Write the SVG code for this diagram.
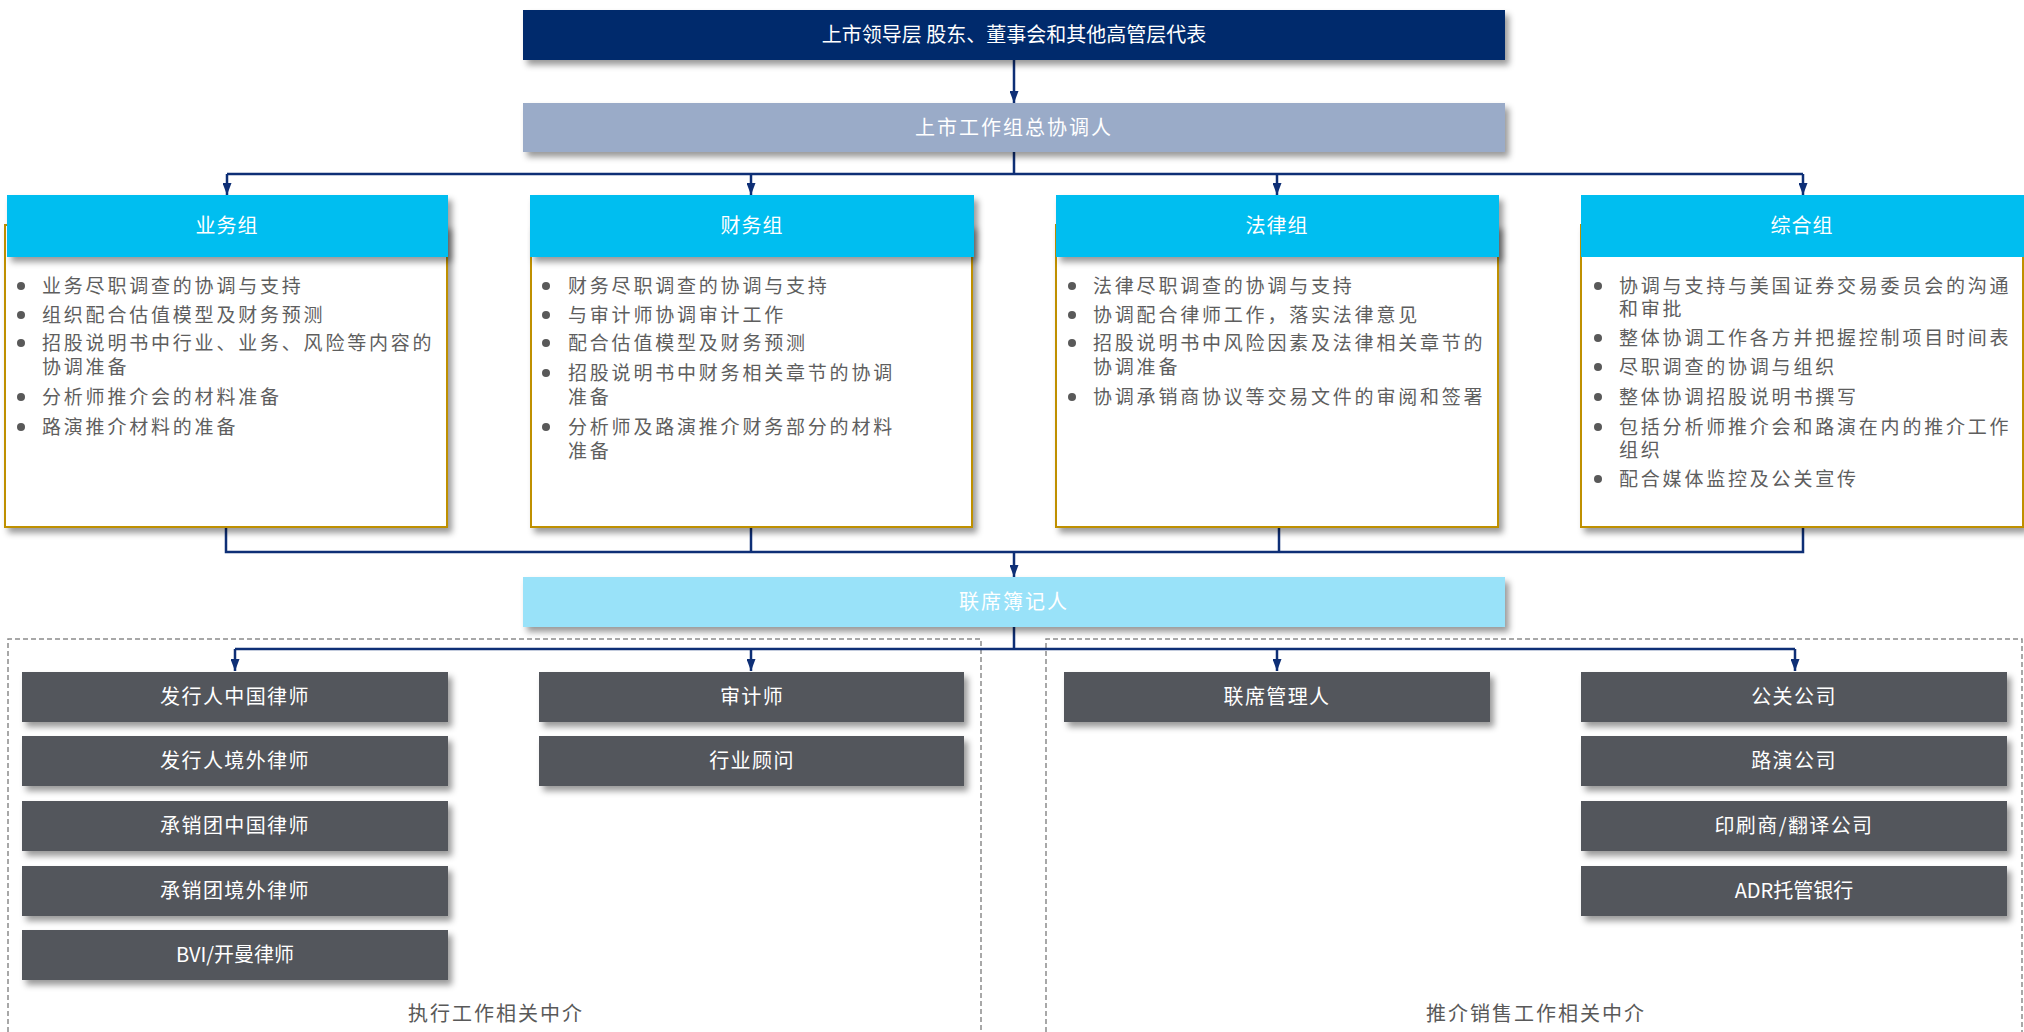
<svg xmlns="http://www.w3.org/2000/svg" width="2024" height="1032" viewBox="0 0 2024 1032">
<defs>
<filter id="sh" x="-5%" y="-10%" width="115%" height="140%">
<feDropShadow dx="4" dy="5" stdDeviation="3" flood-color="#000" flood-opacity="0.4"/>
</filter>
<marker id="ah" viewBox="0 0 12 9" refX="12" refY="4.5" markerWidth="12" markerHeight="9" markerUnits="userSpaceOnUse" orient="auto">
<path d="M0,0 L12,4.5 L0,9 z" fill="#0E2F76"/>
</marker>
<style>
text{font-family:"Noto Sans CJK SC","Liberation Sans",sans-serif;dominant-baseline:central}
.wt{fill:#fff;font-size:20px;text-anchor:middle}
.hd{fill:#fff;font-size:20px;text-anchor:middle;letter-spacing:1px}
.bt{fill:#5E5E5E;font-size:19px;letter-spacing:2.8px}
.lbl{fill:#595959;font-size:20px;text-anchor:middle;letter-spacing:2px}
.bul{fill:#595959}
.body{fill:#fff;stroke:#BF9000;stroke-width:2}
.head{fill:#00BEF0}
.gray{fill:#53565B}
.con{fill:none;stroke:#0E2F76;stroke-width:2.5}
.dash{fill:none;stroke:#8C8C8C;stroke-width:1.5;stroke-dasharray:5,3}
</style>
</defs>
<rect width="2024" height="1032" fill="#fff"/>

<g id="containers">
<path class="dash" d="M8,1032 V639 H981 V1032"/>
<path class="dash" d="M1046,1032 V639 H2022 V1032"/>
<text class="lbl" x="496" y="1012">执行工作相关中介</text>
<text class="lbl" x="1536" y="1012">推介销售工作相关中介</text>
</g>

<g id="connectors">
<path class="con" d="M1014,60 V103" marker-end="url(#ah)"/>
<path class="con" d="M1014,152 V174 M227,174 H1803"/>
<path class="con" d="M227,174 V195" marker-end="url(#ah)"/>
<path class="con" d="M751,174 V195" marker-end="url(#ah)"/>
<path class="con" d="M1277,174 V195" marker-end="url(#ah)"/>
<path class="con" d="M1803,174 V195" marker-end="url(#ah)"/>
<path class="con" d="M226,527 V552 H1803 V527 M751,527 V552 M1279,527 V552"/>
<path class="con" d="M1014,552 V577" marker-end="url(#ah)"/>
<path class="con" d="M1014,627 V649 M235,649 H1795"/>
<path class="con" d="M235,649 V671" marker-end="url(#ah)"/>
<path class="con" d="M751,649 V671" marker-end="url(#ah)"/>
<path class="con" d="M1277,649 V671" marker-end="url(#ah)"/>
<path class="con" d="M1795,649 V671" marker-end="url(#ah)"/>
</g>

<g id="leadership">
<rect x="523" y="10" width="982" height="50" fill="#012A6C" filter="url(#sh)"/>
<text class="wt" x="1014" y="33">上市领导层 股东、董事会和其他高管层代表</text>
</g>

<g id="coordinator">
<rect x="523" y="103" width="982" height="49" fill="#9AABC8" filter="url(#sh)"/>
<text class="wt" x="1014" y="126" style="letter-spacing:2px">上市工作组总协调人</text>
</g>

<g id="group-business">
<rect class="body" x="5" y="225" width="442" height="302" filter="url(#sh)"/>
<rect class="head" x="7" y="195" width="441" height="62" filter="url(#sh)"/>
<text class="hd" x="227" y="224">业务组</text>
<circle class="bul" cx="21" cy="286" r="4"/><text class="bt" x="42" y="284">业务尽职调查的协调与支持</text>
<circle class="bul" cx="21" cy="315" r="4"/><text class="bt" x="42" y="313">组织配合估值模型及财务预测</text>
<circle class="bul" cx="21" cy="343" r="4"/><text class="bt" x="42" y="341">招股说明书中行业、业务、风险等内容的</text>
<text class="bt" x="42" y="365">协调准备</text>
<circle class="bul" cx="21" cy="397" r="4"/><text class="bt" x="42" y="395">分析师推介会的材料准备</text>
<circle class="bul" cx="21" cy="427" r="4"/><text class="bt" x="42" y="425">路演推介材料的准备</text>
</g>

<g id="group-finance">
<rect class="body" x="531" y="225" width="441" height="302" filter="url(#sh)"/>
<rect class="head" x="530" y="195" width="444" height="62" filter="url(#sh)"/>
<text class="hd" x="752" y="224">财务组</text>
<circle class="bul" cx="546" cy="286" r="4"/><text class="bt" x="568" y="284">财务尽职调查的协调与支持</text>
<circle class="bul" cx="546" cy="315" r="4"/><text class="bt" x="568" y="313">与审计师协调审计工作</text>
<circle class="bul" cx="546" cy="343" r="4"/><text class="bt" x="568" y="341">配合估值模型及财务预测</text>
<circle class="bul" cx="546" cy="373" r="4"/><text class="bt" x="568" y="371">招股说明书中财务相关章节的协调</text>
<text class="bt" x="568" y="395">准备</text>
<circle class="bul" cx="546" cy="427" r="4"/><text class="bt" x="568" y="425">分析师及路演推介财务部分的材料</text>
<text class="bt" x="568" y="449">准备</text>
</g>

<g id="group-legal">
<rect class="body" x="1056" y="225" width="442" height="302" filter="url(#sh)"/>
<rect class="head" x="1056" y="195" width="443" height="62" filter="url(#sh)"/>
<text class="hd" x="1277" y="224">法律组</text>
<circle class="bul" cx="1072" cy="286" r="4"/><text class="bt" x="1093" y="284">法律尽职调查的协调与支持</text>
<circle class="bul" cx="1072" cy="315" r="4"/><text class="bt" x="1093" y="313">协调配合律师工作，落实法律意见</text>
<circle class="bul" cx="1072" cy="343" r="4"/><text class="bt" x="1093" y="341">招股说明书中风险因素及法律相关章节的</text>
<text class="bt" x="1093" y="365">协调准备</text>
<circle class="bul" cx="1072" cy="397" r="4"/><text class="bt" x="1093" y="395">协调承销商协议等交易文件的审阅和签署</text>
</g>

<g id="group-general">
<rect class="body" x="1581" y="225" width="442" height="302" filter="url(#sh)"/>
<rect class="head" x="1581" y="195" width="443" height="62"/>
<text class="hd" x="1802" y="224">综合组</text>
<circle class="bul" cx="1598" cy="286" r="4"/><text class="bt" x="1619" y="284">协调与支持与美国证券交易委员会的沟通</text>
<text class="bt" x="1619" y="307">和审批</text>
<circle class="bul" cx="1598" cy="338" r="4"/><text class="bt" x="1619" y="336">整体协调工作各方并把握控制项目时间表</text>
<circle class="bul" cx="1598" cy="367" r="4"/><text class="bt" x="1619" y="365">尽职调查的协调与组织</text>
<circle class="bul" cx="1598" cy="397" r="4"/><text class="bt" x="1619" y="395">整体协调招股说明书撰写</text>
<circle class="bul" cx="1598" cy="427" r="4"/><text class="bt" x="1619" y="425">包括分析师推介会和路演在内的推介工作</text>
<text class="bt" x="1619" y="448">组织</text>
<circle class="bul" cx="1598" cy="479" r="4"/><text class="bt" x="1619" y="477">配合媒体监控及公关宣传</text>
</g>

<g id="bookrunner">
<rect x="523" y="577" width="982" height="50" fill="#99E2F9" filter="url(#sh)"/>
<text class="wt" x="1014" y="600" style="letter-spacing:2px">联席簿记人</text>
</g>

<g id="issuer-prc-counsel"><rect class="gray" x="22" y="672" width="426" height="50" filter="url(#sh)"/><text class="wt" x="235" y="695" style="letter-spacing:1.4px">发行人中国律师</text></g>
<g id="issuer-intl-counsel"><rect class="gray" x="22" y="736" width="426" height="50" filter="url(#sh)"/><text class="wt" x="235" y="759" style="letter-spacing:1.4px">发行人境外律师</text></g>
<g id="uw-prc-counsel"><rect class="gray" x="22" y="801" width="426" height="50" filter="url(#sh)"/><text class="wt" x="235" y="824" style="letter-spacing:1.4px">承销团中国律师</text></g>
<g id="uw-intl-counsel"><rect class="gray" x="22" y="866" width="426" height="50" filter="url(#sh)"/><text class="wt" x="235" y="889" style="letter-spacing:1.4px">承销团境外律师</text></g>
<g id="bvi-counsel"><rect class="gray" x="22" y="930" width="426" height="50" filter="url(#sh)"/><text class="wt" x="235" y="953">BVI/开曼律师</text></g>

<g id="auditor"><rect class="gray" x="539" y="672" width="425" height="50" filter="url(#sh)"/><text class="wt" x="752" y="695" style="letter-spacing:1.4px">审计师</text></g>
<g id="industry-consultant"><rect class="gray" x="539" y="736" width="425" height="50" filter="url(#sh)"/><text class="wt" x="752" y="759" style="letter-spacing:1.4px">行业顾问</text></g>

<g id="joint-manager"><rect class="gray" x="1064" y="672" width="426" height="50" filter="url(#sh)"/><text class="wt" x="1277" y="695" style="letter-spacing:1.4px">联席管理人</text></g>

<g id="pr-firm"><rect class="gray" x="1581" y="672" width="426" height="50" filter="url(#sh)"/><text class="wt" x="1794" y="695" style="letter-spacing:1.4px">公关公司</text></g>
<g id="roadshow-firm"><rect class="gray" x="1581" y="736" width="426" height="50" filter="url(#sh)"/><text class="wt" x="1794" y="759" style="letter-spacing:1.4px">路演公司</text></g>
<g id="printer"><rect class="gray" x="1581" y="801" width="426" height="50" filter="url(#sh)"/><text class="wt" x="1794" y="824" style="letter-spacing:1.4px">印刷商/翻译公司</text></g>
<g id="adr-bank"><rect class="gray" x="1581" y="866" width="426" height="50" filter="url(#sh)"/><text class="wt" x="1794" y="889">ADR托管银行</text></g>
</svg>
